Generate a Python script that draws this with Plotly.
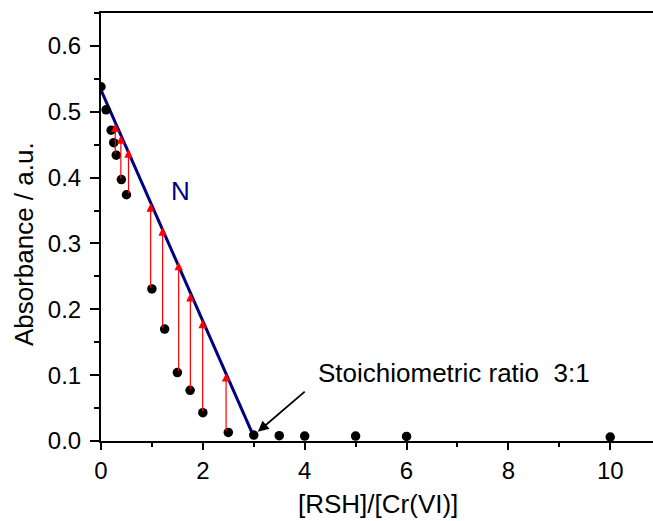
import plotly.graph_objects as go

# Data points
x_pts = [0, 0.1, 0.2, 0.25, 0.3, 0.4, 0.5, 1.0, 1.25, 1.5, 1.75, 2.0, 2.5, 3.0, 3.5, 4.0, 5.0, 6.0, 10.0]
y_pts = [0.538, 0.503, 0.472, 0.453, 0.434, 0.397, 0.374, 0.231, 0.170, 0.104, 0.077, 0.043, 0.013, 0.009, 0.008, 0.0075, 0.0075, 0.007, 0.006]

# Straight line N
x_line = [0, 2.97]
y_line = [0.533, 0.012]

# Red arrows (from data point up to line N)
arrow_x = [0.28, 0.39, 0.54, 0.975, 1.21, 1.525, 1.755, 1.996, 2.456]
arrow_from = [0.434, 0.396, 0.374, 0.231, 0.170, 0.104, 0.077, 0.043, 0.013]
arrow_to = [0.482, 0.464, 0.443, 0.361, 0.3245, 0.272, 0.2245, 0.184, 0.103]

x_ticks = [0, 2, 4, 6, 8, 10]
y_ticks = [0.0, 0.1, 0.2, 0.3, 0.4, 0.5, 0.6]

FONT = "Liberation Sans, Arial, sans-serif"

fig = go.Figure()
fig.add_trace(go.Scatter(x=x_line, y=y_line, mode="lines",
                         line=dict(color="#000080", width=3), showlegend=False))
fig.add_trace(go.Scatter(x=x_pts, y=y_pts, mode="markers",
                         marker=dict(color="black", size=9.5), showlegend=False))

annotations = []
for xa, y0, y1 in zip(arrow_x, arrow_from, arrow_to):
    annotations.append(dict(x=xa, y=y1, ax=xa, ay=y0, xref="x", yref="y",
                            axref="x", ayref="y", text="", showarrow=True,
                            arrowhead=2, arrowsize=1.4, arrowwidth=1.2,
                            arrowcolor="#ff0000"))
# black arrow to stoichiometric point
annotations.append(dict(x=3.08, y=0.014, ax=4.03, ay=0.077, xref="x", yref="y",
                        axref="x", ayref="y", text="", showarrow=True,
                        arrowhead=2, arrowsize=1.2, arrowwidth=1.8,
                        arrowcolor="black"))
annotations.append(dict(x=4.22, y=0.103, xref="x", yref="y", text="Stoichiometric ratio  3:1",
                        showarrow=False, xanchor="left", yanchor="middle",
                        font=dict(family=FONT, size=26, color="black")))
annotations.append(dict(x=1.57, y=0.380, xref="x", yref="y", text="N",
                        showarrow=False, xanchor="center", yanchor="middle",
                        font=dict(family=FONT, size=26, color="#000080")))
# axis titles
annotations.append(dict(x=-0.1395, y=0.460, xref="paper", yref="paper",
                        text="Absorbance / a.u.", textangle=-90, showarrow=False,
                        xanchor="center", yanchor="middle",
                        font=dict(family=FONT, size=26, color="black")))
annotations.append(dict(x=0.502, y=-0.147, xref="paper", yref="paper",
                        text="[RSH]/[Cr(VI)]", showarrow=False,
                        xanchor="center", yanchor="middle",
                        font=dict(family=FONT, size=26, color="black")))

fig.update_layout(
    width=653, height=521,
    margin=dict(l=101, r=0, t=13, b=80),
    paper_bgcolor="white", plot_bgcolor="white",
    font=dict(family=FONT, size=24, color="black"),
    annotations=annotations,
    xaxis=dict(range=[0, 10.84], tickvals=x_ticks, ticks="outside", ticklen=7,
               tickwidth=2, tickcolor="black", showline=True, linecolor="black",
               linewidth=2, mirror=True, showgrid=False, zeroline=False,
               minor=dict(dtick=1, tick0=0, ticks="outside", ticklen=4, tickwidth=2, tickcolor="black"),
               tickfont=dict(family=FONT, size=24, color="black")),
    yaxis=dict(range=[0, 0.65], tickvals=y_ticks, tickformat=".1f", ticks="outside",
               ticklen=9, tickwidth=2, tickcolor="black", showline=True,
               linecolor="black", linewidth=2, showgrid=False, zeroline=False,
               ticklabelstandoff=4,
               minor=dict(dtick=0.05, tick0=0, ticks="outside", ticklen=5, tickwidth=2, tickcolor="black"),
               tickfont=dict(family=FONT, size=24, color="black")),
)

fig.write_html("out.html")
